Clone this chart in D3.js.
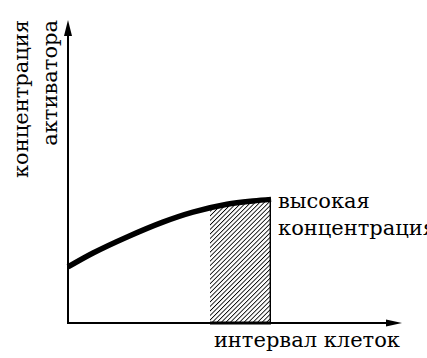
<!DOCTYPE html>
<html><head><meta charset="utf-8">
<script src="https://cdn.jsdelivr.net/npm/d3@7"></script>
<style>body{margin:0;background:#fff}svg{display:block}</style>
</head><body>
<script>
const cellPos = [0, 7.5, 17.7, 28.4, 37.4, 47.6, 55.4, 60.8];
const activator = [18.5, 23.1, 28.4, 33.3, 36.6, 39.2, 40.3, 40.8];
const highRange = [42.5, 60.8];
const yLabelLines = ["концентрация", "активатора"];
const xLabel = "интервал клеток";
const highLabelLines = ["высокая", "концентрация"];

const FONT = "DejaVu Serif";
const FS = 21;
const W = 427, H = 358;
const svg = d3.select("body").append("svg").attr("width", W).attr("height", H);
const x = d3.scaleLinear().domain([0, 100]).range([68, 402]);
const y = d3.scaleLinear().domain([0, 100]).range([323, 20]);
const data = cellPos.map((c, i) => ({c, v: activator[i]}));

const defs = svg.append("defs");
const pat = defs.append("pattern").attr("id", "hatch").attr("patternUnits", "userSpaceOnUse")
  .attr("width", 3.2).attr("height", 3.2).attr("patternTransform", "rotate(45)");
pat.append("line").attr("x1", 0).attr("y1", 0).attr("x2", 0).attr("y2", 3.2)
  .attr("stroke", "#000").attr("stroke-width", 1.7);
defs.append("clipPath").attr("id", "hc").append("rect")
  .attr("x", x(highRange[0])).attr("y", 0)
  .attr("width", x(highRange[1]) - x(highRange[0])).attr("height", H);

const curve = d3.curveCatmullRom.alpha(0.5);
const area = d3.area().x(d => x(d.c)).y0(y(0)).y1(d => y(d.v)).curve(curve);
svg.append("path").datum(data).attr("d", area).attr("fill", "url(#hatch)").attr("clip-path", "url(#hc)");
svg.append("g").attr("clip-path", "url(#hc)").append("path").datum(data).attr("d", area)
  .attr("fill", "none").attr("stroke", "#000").attr("stroke-width", 3);

const line = d3.line().x(d => x(d.c)).y(d => y(d.v)).curve(curve);
svg.append("path").datum(data).attr("d", line).attr("fill", "none")
  .attr("stroke", "#000").attr("stroke-width", 5.5);

// axes
const xAxis = d3.axisBottom(x).tickValues([]).tickSizeOuter(0);
const gx = svg.append("g").attr("transform", `translate(0,${y(0)})`).call(xAxis);
gx.select(".domain").attr("stroke-width", 2).attr("d", `M${x(0)},0H${x(100)-12}`);
const yAxis = d3.axisLeft(y).tickValues([]).tickSizeOuter(0);
const gy = svg.append("g").attr("transform", `translate(${x(0)},0)`).call(yAxis);
gy.select(".domain").attr("stroke-width", 2).attr("d", `M0,${y(0)+1}V${y(100)+12}`);

// arrowheads
svg.append("path").attr("d", `M${x(100)},${y(0)} L${x(100)-16},${y(0)-3.5} L${x(100)-16},${y(0)+3.5}Z`);
svg.append("path").attr("d", `M${x(0)},${y(100)} L${x(0)-4},${y(100)+16} L${x(0)+4},${y(100)+16}Z`);

// labels
function label() {
  return svg.append("text").style("font-family", FONT).attr("font-size", FS);
}
yLabelLines.forEach((t, i) => {
  label().attr("transform", `translate(${28 + i * 29},20) rotate(-90)`)
    .attr("text-anchor", "end").text(t);
});
label().attr("x", 400).attr("y", 347).attr("text-anchor", "end").text(xLabel);
highLabelLines.forEach((t, i) => {
  label().attr("x", 278).attr("y", 208 + i * 27).text(t);
});
</script>
</body></html>
